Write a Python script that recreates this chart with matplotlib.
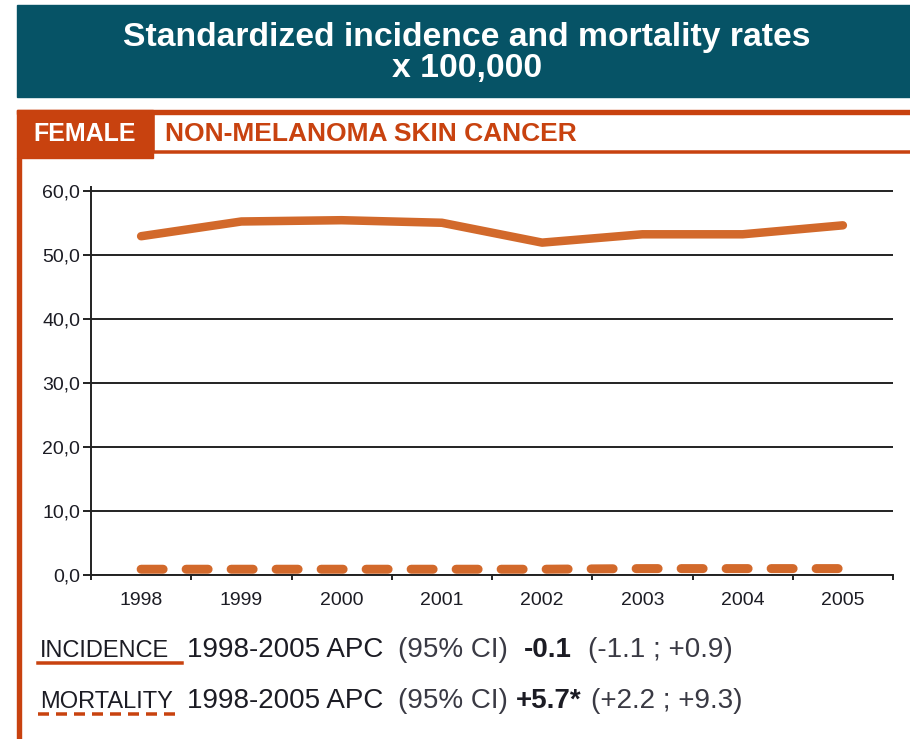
import matplotlib
matplotlib.use("Agg")
import matplotlib.pyplot as plt
from matplotlib.lines import Line2D
from matplotlib.patches import Rectangle

# data
years = ["1998", "1999", "2000", "2001", "2002", "2003", "2004", "2005"]
incidence = [52.9, 55.2, 55.4, 55.0, 51.9, 53.2, 53.2, 54.6]
mortality = [0.9, 0.9, 0.9, 0.9, 0.9, 1.0, 1.0, 1.0]
y_ticks = [0, 10, 20, 30, 40, 50, 60]
y_tick_labels = ["0,0", "10,0", "20,0", "30,0", "40,0", "50,0", "60,0"]

title_lines = ["Standardized incidence and mortality rates", "x 100,000"]
sex_label = "FEMALE"
site_label = "NON-MELANOMA SKIN CANCER"
apc_rows = [
    ("INCIDENCE", "1998-2005 APC", "(95% CI)", "-0.1", "(-1.1 ; +0.9)"),
    ("MORTALITY", "1998-2005 APC", "(95% CI)", "+5.7*", "(+2.2 ; +9.3)"),
]

TEAL = "#065366"
ORANGE = "#C8420F"
LINE = "#D2692B"
TEXT = "#1c1c24"

W, H = 910, 739
plt.rcParams["font.family"] = ["Liberation Sans", "DejaVu Sans"]
plt.rcParams["lines.scale_dashes"] = False


def fx(x):
    return x / W


def fy(y):
    return 1 - y / H


def px(n):
    # pixels -> points at dpi 100
    return n * 0.72


fig = plt.figure(figsize=(W / 100, H / 100), dpi=100)

# header band
fig.patches.append(Rectangle((fx(17), fy(97)), fx(910 - 17), 92 / H,
                             transform=fig.transFigure, color=TEAL, zorder=0))
fig.text(fx(467), fy(46), title_lines[0], color="white", fontsize=24.3,
         fontweight="bold", ha="center", va="baseline")
fig.text(fx(467), fy(77), title_lines[1], color="white", fontsize=24.3,
         fontweight="bold", ha="center", va="baseline")

# orange frame: title box, sex tab, left rule
fig.patches.append(Rectangle((fx(153), fy(152)), fx(920 - 153), 40 / H,
                             transform=fig.transFigure, facecolor="white",
                             edgecolor=ORANGE, lw=px(3.5), zorder=1))
fig.patches.append(Rectangle((fx(17), fy(114)), fx(910 - 17), 4 / H,
                             transform=fig.transFigure, color=ORANGE, zorder=2))
fig.patches.append(Rectangle((fx(17), fy(158)), fx(153 - 17), 48 / H,
                             transform=fig.transFigure, color=ORANGE, zorder=2))
fig.patches.append(Rectangle((fx(17), 0), fx(4), fy(158),
                             transform=fig.transFigure, color=ORANGE, zorder=2))
fig.text(fx(85), fy(141), sex_label, color="white", fontsize=18,
         fontweight="bold", ha="center", va="baseline", zorder=3)
fig.text(fx(165), fy(141), site_label, color=ORANGE, fontsize=19,
         fontweight="bold", ha="left", va="baseline", zorder=3)

# chart
ax = fig.add_axes([fx(91), fy(575), fx(893 - 91), (575 - 186.9) / H])
x = list(range(len(years)))
ax.plot(x, incidence, color=LINE, lw=px(8.5), solid_capstyle="round",
        solid_joinstyle="round", zorder=3)
ax.plot(x, mortality, color=LINE, lw=px(9), dash_capstyle="round",
        dashes=(px(22), px(23)), zorder=3)

ax.set_xlim(-0.5, len(years) - 0.5)
ax.set_ylim(0, 60.6)
ax.set_yticks(y_ticks)
ax.set_yticklabels(y_tick_labels)
ax.set_xticks(x)
ax.set_xticklabels(years)
ax.set_xticks([i - 0.5 for i in range(len(years) + 1)], minor=True)
ax.tick_params(axis="y", length=px(8), width=1.4, pad=2, labelsize=14,
               labelcolor=TEXT, color="#222222")
ax.tick_params(axis="x", which="major", length=0, pad=12, labelsize=14,
               labelcolor=TEXT)
ax.tick_params(axis="x", which="minor", length=px(5), width=1.4,
               color="#222222")
ax.grid(axis="y", color="#222222", lw=1.4, zorder=1)
for side in ("top", "right"):
    ax.spines[side].set_visible(False)
for side in ("left", "bottom"):
    ax.spines[side].set_linewidth(1.4)
    ax.spines[side].set_color("#222222")

# APC summary lines
baselines = [657, 708]
styles = ["-", (0, (px(11), px(7)))]
starts_ci = [588, 591]
starts_val = [524, 516]
for (name, period, ci_lbl, val, ci), base, ls, x_ci, x_val in zip(
        apc_rows, baselines, styles, starts_ci, starts_val):
    fig.text(fx(40), fy(base), name, fontsize=17, color=TEXT, va="baseline")
    fig.text(fx(187), fy(base), period, fontsize=20, color=TEXT, va="baseline")
    fig.text(fx(398), fy(base), ci_lbl, fontsize=20, color="#3a3a44",
             va="baseline")
    fig.text(fx(x_val), fy(base), val, fontsize=20, color=TEXT,
             fontweight="bold", va="baseline")
    fig.text(fx(x_ci), fy(base), ci, fontsize=20, color="#3a3a44",
             va="baseline")
    fig.lines.append(Line2D([fx(38), fx(182)], [fy(base + 6)] * 2,
                            transform=fig.transFigure, color=ORANGE,
                            lw=px(3.5), linestyle=ls))

fig.savefig("out.png", dpi=100)
